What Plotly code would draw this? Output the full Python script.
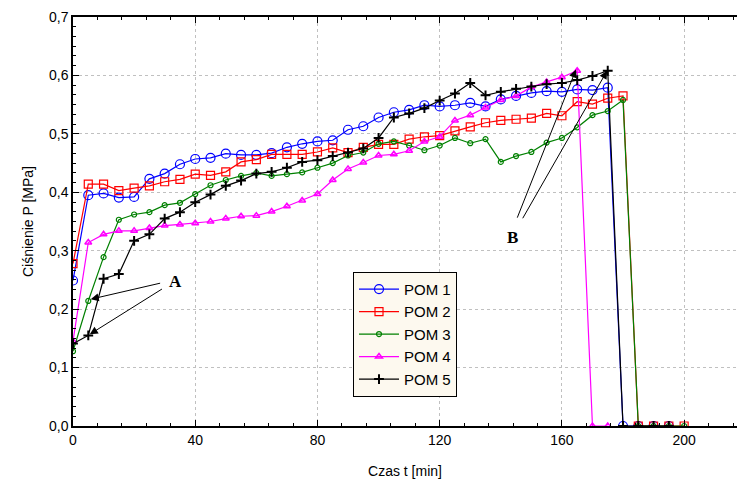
import plotly.graph_objects as go

t_pom1 = [0, 5, 10, 15, 20, 25, 30, 35, 40, 45, 50, 55, 60, 65, 70, 75, 80, 85, 90, 95, 100,
          105, 110, 115, 120, 125, 130, 135, 140, 145, 150, 155, 160, 165, 170, 175, 180, 185, 190, 195]
p_pom1 = [0.249, 0.395, 0.398, 0.391, 0.392, 0.423, 0.432, 0.448, 0.457, 0.459, 0.466, 0.464, 0.464,
          0.467, 0.477, 0.483, 0.487, 0.489, 0.507, 0.513, 0.528, 0.537, 0.541, 0.549, 0.547, 0.549,
          0.553, 0.547, 0.559, 0.565, 0.570, 0.573, 0.572, 0.576, 0.575, 0.579, 0.0, 0.0, 0.0, 0.0]

t_pom2 = [0, 5, 10, 15, 20, 25, 30, 35, 40, 45, 50, 55, 60, 65, 70, 75, 80, 85, 90, 95, 100,
          105, 110, 115, 120, 125, 130, 135, 140, 145, 150, 155, 160, 165, 170, 175, 180, 185, 190, 195, 200]
p_pom2 = [0.278, 0.414, 0.414, 0.403, 0.407, 0.411, 0.418, 0.422, 0.431, 0.429, 0.435, 0.452, 0.456,
          0.465, 0.465, 0.465, 0.469, 0.476, 0.468, 0.477, 0.482, 0.482, 0.491, 0.495, 0.497, 0.505,
          0.512, 0.519, 0.523, 0.525, 0.527, 0.535, 0.531, 0.555, 0.551, 0.561, 0.565, 0.0, 0.0, 0.0, 0.0]

t_pom3 = t_pom2
p_pom3 = [0.128, 0.214, 0.289, 0.353, 0.362, 0.366, 0.378, 0.382, 0.397, 0.412, 0.421, 0.428, 0.433,
          0.428, 0.431, 0.434, 0.442, 0.450, 0.463, 0.468, 0.483, 0.487, 0.480, 0.472, 0.480, 0.493,
          0.484, 0.491, 0.452, 0.462, 0.469, 0.485, 0.493, 0.511, 0.532, 0.539, 0.558, 0.0, 0.0, 0.0, 0.0]

t_pom4 = [0, 5, 10, 15, 20, 25, 30, 35, 40, 45, 50, 55, 60, 65, 70, 75, 80, 85, 90, 95, 100,
          105, 110, 115, 120, 125, 130, 135, 140, 145, 150, 155, 160, 165, 170, 175]
p_pom4 = [0.145, 0.314, 0.328, 0.334, 0.334, 0.339, 0.343, 0.345, 0.347, 0.350, 0.355, 0.359, 0.360,
          0.367, 0.376, 0.386, 0.397, 0.421, 0.440, 0.451, 0.463, 0.465, 0.471, 0.487, 0.495, 0.523,
          0.532, 0.545, 0.558, 0.565, 0.580, 0.589, 0.597, 0.608, 0.0, 0.0]

t_pom5 = t_pom1
p_pom5 = [0.141, 0.155, 0.252, 0.260, 0.317, 0.328, 0.355, 0.366, 0.383, 0.396, 0.411, 0.420, 0.432,
          0.435, 0.442, 0.452, 0.455, 0.462, 0.468, 0.475, 0.493, 0.528, 0.535, 0.544, 0.557, 0.569,
          0.587, 0.566, 0.572, 0.577, 0.581, 0.585, 0.587, 0.592, 0.599, 0.608, 0.0, 0.0, 0.0, 0.0]

series = [
    ("POM 1", t_pom1, p_pom1, "#0000ff", "circle-open", 9, 1.2),
    ("POM 2", t_pom2, p_pom2, "#ff0000", "square-open", 8, 1.2),
    ("POM 3", t_pom3, p_pom3, "#008000", "circle-open", 5, 1.2),
    ("POM 4", t_pom4, p_pom4, "#ff00ff", "triangle-up-open", 6, 1.5),
    ("POM 5", t_pom5, p_pom5, "#000000", "cross-thin-open", 7, 2),
]

fig = go.Figure()
for name, t, p, col, sym, sz, mlw in series:
    fig.add_trace(go.Scatter(
        x=t, y=p, name=name, mode="lines+markers",
        line=dict(color=col, width=1.2),
        marker=dict(symbol=sym, size=sz, color=col, line=dict(color=col, width=mlw)),
    ))

arrow_font = dict(family="Liberation Serif", size=17, color="black")
fig.add_annotation(x=33.7, y=0.248, text="<b>A</b>", showarrow=False, font=arrow_font)
fig.add_annotation(x=143.7, y=0.322, text="<b>B</b>", showarrow=False, font=arrow_font)

arrows = [
    (5.8, 0.217, 29.0, 0.245),
    (5.5, 0.157, 29.6, 0.236),
    (164.6, 0.610, 145.2, 0.354),
    (174.8, 0.608, 146.9, 0.353),
]
for x, y, ax, ay in arrows:
    fig.add_annotation(x=x, y=y, ax=ax, ay=ay, axref="x", ayref="y", xref="x", yref="y",
                       text="", showarrow=True, arrowhead=2, arrowsize=1.6, arrowwidth=1,
                       arrowcolor="black")

tickfont = dict(family="Liberation Sans", size=14, color="black")
fig.update_layout(
    width=737, height=483,
    margin=dict(l=73, r=0, t=17, b=57, autoexpand=False),
    paper_bgcolor="white", plot_bgcolor="white",
    separators=",.",
    showlegend=True,
    legend=dict(x=0.4217, y=0.377, xanchor="left", yanchor="top",
                bgcolor="#fdf9ef", bordercolor="black", borderwidth=1,
                font=dict(family="Liberation Sans", size=15, color="black"),
                itemwidth=40, tracegroupgap=0),
    xaxis=dict(range=[0, 217.3], tickvals=[0, 40, 80, 120, 160, 200], automargin=False,
               ticks="inside", ticklen=6, tickwidth=1, tickcolor="black",
               showline=True, linecolor="black", linewidth=1.5, mirror="ticks",
               showgrid=True, gridcolor="#c0c0c0", griddash="dot", gridwidth=1,
               zeroline=False, tickfont=tickfont,
               minor=dict(dtick=8, tick0=0, ticks="inside", ticklen=3, tickcolor="black", showgrid=False),
               title=dict(text="Czas t [min]", font=dict(family="Liberation Sans", size=14, color="black"),
                          standoff=20)),
    yaxis=dict(range=[0, 0.7], tickvals=[0, 0.1, 0.2, 0.3, 0.4, 0.5, 0.6, 0.7], tickformat=".1f",
               automargin=False,
               ticks="inside", ticklen=6, tickwidth=1, tickcolor="black",
               showline=True, linecolor="black", linewidth=1.5, mirror=False,
               showgrid=True, gridcolor="#c0c0c0", griddash="dot", gridwidth=1,
               zeroline=False, tickfont=tickfont,
               minor=dict(dtick=0.1 / 6, tick0=0, ticks="inside", ticklen=3, tickcolor="black", showgrid=False),
               title=dict(text="Ciśnienie P [MPa]", font=dict(family="Liberation Sans", size=14, color="black"),
                          standoff=12)),
)

fig.write_html("out.html", config={"displayModeBar": False},
               post_script="document.body.style.margin='0';document.body.style.padding='0';")
